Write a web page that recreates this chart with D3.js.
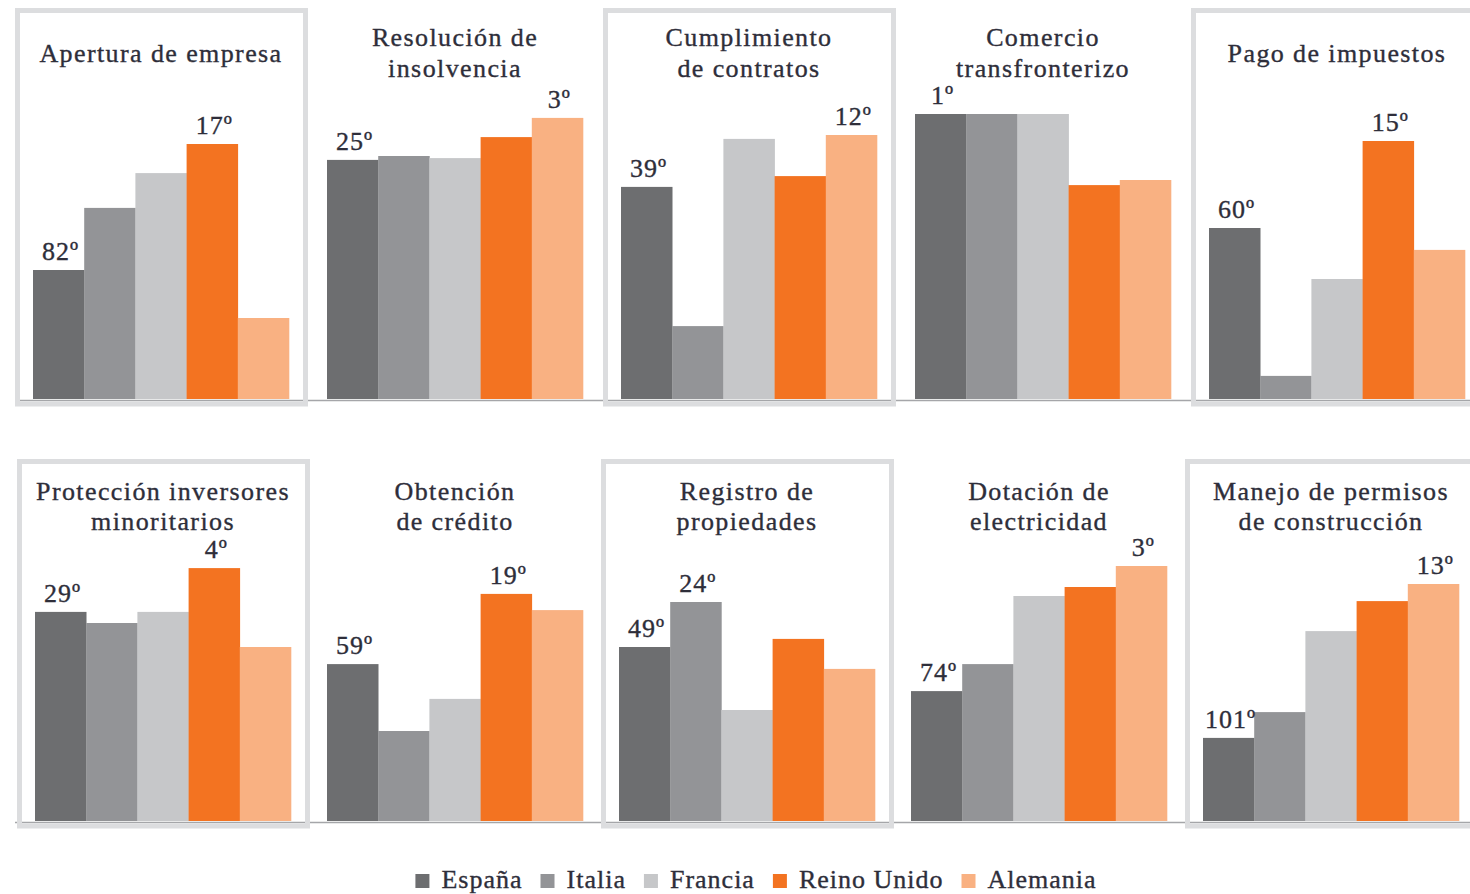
<!DOCTYPE html>
<html><head><meta charset="utf-8">
<script src="https://cdn.jsdelivr.net/npm/d3@7"></script>
<style>
body{margin:0;background:#fff}
svg{display:block}
text{font-family:"Liberation Serif","DejaVu Serif","Times New Roman",serif;fill:#2e2e3a;stroke:#2e2e3a;stroke-width:0.35px}
</style>
</head><body>
<svg id="chart" width="1470" height="894"></svg>
<script>
// ---------------- data ----------------
const categories = [
  "Apertura de empresa", "Resolución de\ninsolvencia", "Cumplimiento\nde contratos",
  "Comercio\ntransfronterizo", "Pago de impuestos",
  "Protección inversores\nminoritarios", "Obtención\nde crédito", "Registro de\npropiedades",
  "Dotación de\nelectricidad", "Manejo de permisos\nde construcción"
];
const countries = ["España", "Italia", "Francia", "Reino Unido", "Alemania"];
const colors = ["#6d6e70", "#939497", "#c6c7c9", "#f37321", "#f9b182"];

// relative bar heights (index 0-100)
const espana    = [43.0, 79.7, 70.7, 95.0, 57.0, 69.7, 52.3, 58.0, 43.3, 27.7];
const italia    = [63.7, 81.0, 24.3, 95.0,  7.7, 66.0, 30.0, 73.0, 52.3, 36.3];
const francia   = [75.3, 80.3, 86.7, 95.0, 40.0, 69.7, 40.7, 37.0, 75.0, 63.3];
const reinoUnido= [85.0, 87.3, 74.3, 71.3, 86.0, 84.3, 75.7, 60.7, 78.0, 73.3];
const alemania  = [27.0, 93.7, 88.0, 73.0, 49.7, 58.0, 70.3, 50.7, 85.0, 79.0];
const series = [espana, italia, francia, reinoUnido, alemania];

// ranking labels
const rankEspana = [82, 25, 39, 1, 60, 29, 59, 49, 74, 101];
const rankOtherCountry = ["Reino Unido", "Alemania", "Alemania", null, "Reino Unido",
                          "Reino Unido", "Reino Unido", "Italia", "Alemania", "Alemania"];
const rankOther = [17, 3, 12, null, 15, 4, 19, 24, 3, 13];
const boxed = [true, false, true, false, true, true, false, true, false, true];

// ---------------- layout ----------------
const svg = d3.select("#chart");
const rows = [
  {baseline: 399, start: 33, step: 294, boxTop: 8, titleSingle: 62, titleDouble: 46, lh: 31},
  {baseline: 821, start: 35, step: 292, boxTop: 459, titleSingle: 500, titleDouble: 500, lh: 30}
];
const groupW = 256;
const y = d3.scaleLinear().domain([0, 100]).range([0, 300]);
const xInner = d3.scaleBand().domain(countries).range([0, groupW]).padding(0);

rows.forEach((r, ri) => {
  r.x = d3.scaleBand().domain(d3.range(5)).range([r.start, r.start + r.step * 5]).padding(0);
  svg.append("line")
    .attr("x1", 15).attr("x2", 1470)
    .attr("y1", r.baseline + 1.5).attr("y2", r.baseline + 1.5)
    .attr("stroke", "#a5a6a9").attr("stroke-width", 1.5);
});

categories.forEach((cat, i) => {
  const ri = Math.floor(i / 5), ci = i % 5;
  const r = rows[ri];
  const gx = r.x(ci);
  const g = svg.append("g").attr("transform", `translate(${gx},0)`);

  const data = countries.map((c, k) => ({country: c, value: series[k][i], color: colors[k]}));
  g.selectAll("rect.bar").data(data).join("rect")
    .attr("class", "bar")
    .attr("x", d => xInner(d.country))
    .attr("width", xInner.bandwidth() + 0.3)
    .attr("y", d => r.baseline - y(d.value))
    .attr("height", d => y(d.value))
    .attr("fill", d => d.color);

  if (boxed[i]) {
    const sw = 5;
    g.append("rect")
      .attr("x", -18 + sw / 2).attr("y", r.boxTop + sw / 2)
      .attr("width", 293 - sw).attr("height", (r.baseline + 5) - r.boxTop - sw / 2)
      .attr("fill", "none").attr("stroke", "#dcdddf").attr("stroke-width", sw);
  }

  const lines = cat.split("\n");
  const t0 = lines.length === 1 ? r.titleSingle : r.titleDouble;
  const tt = g.append("text").attr("text-anchor", "middle")
    .style("font-size", "26px").style("letter-spacing", "1.4px");
  lines.forEach((ln, li) => {
    tt.append("tspan").attr("x", groupW / 2).attr("y", t0 + li * r.lh).text(ln);
  });

  const labels = [{country: "España", rank: rankEspana[i]}];
  if (rankOtherCountry[i]) labels.push({country: rankOtherCountry[i], rank: rankOther[i]});
  labels.forEach(l => {
    const k = countries.indexOf(l.country);
    g.append("text")
      .attr("x", xInner(l.country) + xInner.bandwidth() / 2 + 2)
      .attr("y", r.baseline - y(series[k][i]) - 10)
      .attr("text-anchor", "middle")
      .style("font-size", "26px").style("letter-spacing", "1px")
      .text(l.rank + "º");
  });
});

// legend
const leg = svg.append("g");
let lx = 0;
countries.forEach((c, k) => {
  const it = leg.append("g");
  it.append("rect").attr("x", 0).attr("y", 874).attr("width", 14).attr("height", 14).attr("fill", colors[k]);
  const tx = it.append("text").attr("x", 26).attr("y", 888)
    .style("font-size", "26px").style("letter-spacing", "1px").text(c);
  const w = 26 + tx.node().getComputedTextLength();
  it.attr("transform", `translate(${lx},0)`);
  lx += w + 18;
});
const totalW = lx - 18;
leg.attr("transform", `translate(${756 - totalW / 2},0)`);
</script>
</body></html>
